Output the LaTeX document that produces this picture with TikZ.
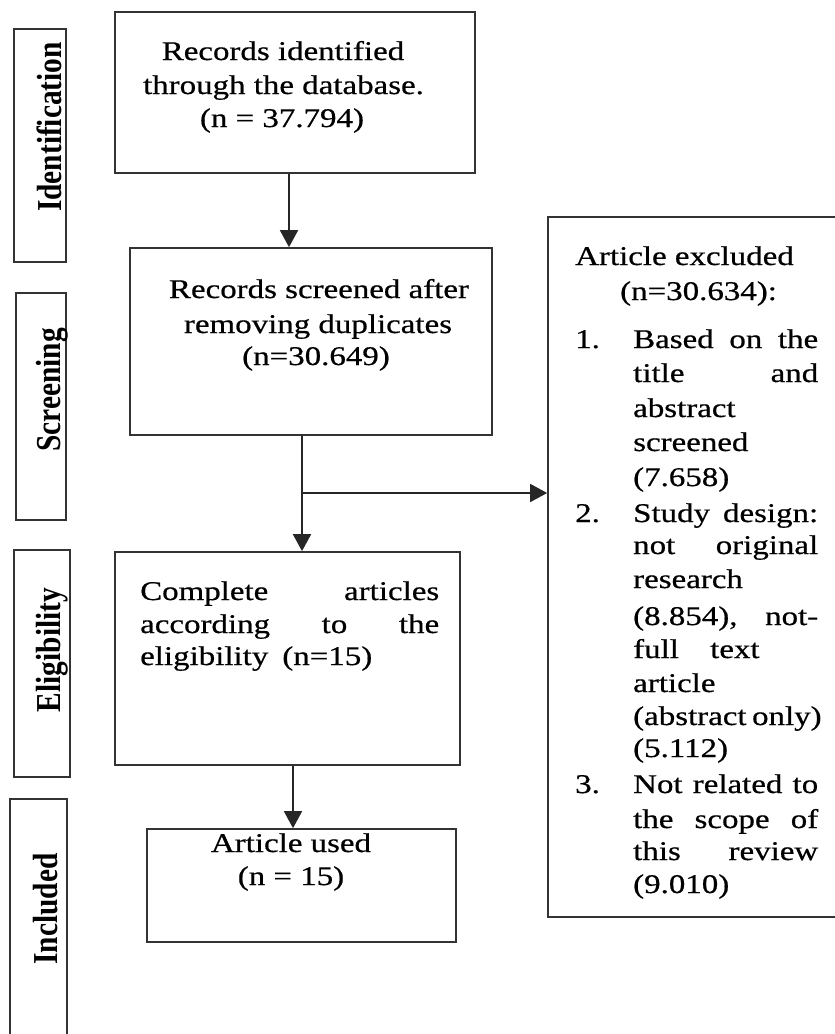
\documentclass[tikz,border=0pt]{standalone}
\usepackage{fontspec}
\setmainfont{Liberation Serif}
\newfontfamily\bodyfont[FakeStretch=1.22,FakeBold=0.6]{Liberation Serif}
\newfontfamily\labfont[FakeStretch=0.84]{Liberation Serif}
\usetikzlibrary{arrows.meta}
\tikzset{
  frame/.style={draw=black!80, line width=1.7pt, rectangle, inner sep=0pt, fill=none},
  txt/.style={inner sep=0pt, font=\bodyfont\fontsize{27}{33}\selectfont, text=black},
  lab/.style={inner sep=0pt, rotate=90, anchor=base, font=\labfont\bfseries\fontsize{35}{40}\selectfont, text=black},
  arr/.style={draw=black!85, line width=1.7pt, -{Triangle[length=17pt,width=18pt]}},
  conn/.style={draw=black!85, line width=1.7pt},
}
\newcommand{\jl}[1]{\makebox[185pt][s]{#1}}
\begin{document}
\begin{tikzpicture}[x=1pt,y=-1pt]
\clip (0,0) rectangle (835,1034);
\fill[white] (0,0) rectangle (835,1034);

% stage label boxes
\node[frame, minimum width=52pt, minimum height=233pt] (l1) at (40,145.5) {};
\node[frame, minimum width=50pt, minimum height=227pt] (l2) at (41,406.5) {};
\node[frame, minimum width=56pt, minimum height=227pt] (l3) at (42,663.5) {};
\node[frame, minimum width=57pt, minimum height=251pt] (l4) at (38.5,924.5) {};
\node[lab] (lt1) at (61,127) {Identification};
\node[lab] (lt2) at (60,390) {Screening};
\node[lab] (lt3) at (60,650) {Eligibility};
\node[lab] (lt4) at (57,909) {Included};

% main boxes
\node[frame, minimum width=360pt, minimum height=161pt] (b1) at (295,92.5) {};
\node[frame, minimum width=362pt, minimum height=187pt] (b2) at (311,341.5) {};
\node[frame, minimum width=345pt, minimum height=213pt] (b3) at (287.5,658.5) {};
\node[frame, minimum width=309pt, minimum height=113pt] (b4) at (301.5,885.5) {};
\node[frame, minimum width=302pt, minimum height=700pt] (rb) at (699,567) {};

% box 1 text
\node[txt, anchor=base] (t11) at (283,60) {Records identified};
\node[txt, anchor=base] (t12) at (283.5,94) {through the database.};
\node[txt, anchor=base] (t13) at (282,127) {(n = 37.794)};
% box 2 text
\node[txt, anchor=base] (t21) at (319,298) {Records screened after};
\node[txt, anchor=base] (t22) at (318,333) {removing duplicates};
\node[txt, anchor=base] (t23) at (316,365) {(n=30.649)};
% box 3 text
\node[txt, anchor=base west] (t31) at (140,600) {\makebox[299pt][s]{Complete articles}};
\node[txt, anchor=base west] (t32) at (140,633) {\makebox[299pt][s]{according to the}};
\node[txt, anchor=base west] (t33) at (140,665) {eligibility\hspace{14pt}(n=15)};
% box 4 text
\node[txt, anchor=base] (t41) at (291,852) {Article used};
\node[txt, anchor=base] (t42) at (291,885) {(n = 15)};

% excluded box text
\node[txt, anchor=base west] (r0a) at (575,265) {Article excluded};
\node[txt, anchor=base west] (r0b) at (620,300) {(n=30.634):};
\node[txt, anchor=base west] (n1) at (575,348) {1.};
\node[txt, anchor=base west] (r1) at (633,348) {\jl{Based on the}};
\node[txt, anchor=base west] (r2) at (633,382) {\jl{title and}};
\node[txt, anchor=base west] (r3) at (633,417) {abstract};
\node[txt, anchor=base west] (r4) at (633,451) {screened};
\node[txt, anchor=base west] (r5) at (633,486) {(7.658)};
\node[txt, anchor=base west] (n2) at (575,522) {2.};
\node[txt, anchor=base west] (r6) at (633,522) {\jl{Study design:}};
\node[txt, anchor=base west] (r7) at (633,554) {\jl{not original}};
\node[txt, anchor=base west] (r8) at (633,588) {research};
\node[txt, anchor=base west] (r9) at (633,625) {\jl{(8.854), not-}};
\node[txt, anchor=base west] (r10) at (633,658) {full};
\node[txt, anchor=base west] (r10b) at (710,658) {text};
\node[txt, anchor=base west] (r11) at (633,692) {article};
\node[txt, anchor=base west] (r12) at (633,725) {\jl{(abstract only)}};
\node[txt, anchor=base west] (r13) at (633,757) {(5.112)};
\node[txt, anchor=base west] (n3) at (575,793) {3.};
\node[txt, anchor=base west] (r14) at (633,793) {\jl{Not related to}};
\node[txt, anchor=base west] (r15) at (633,828) {\jl{the scope of}};
\node[txt, anchor=base west] (r16) at (633,860) {\jl{this review}};
\node[txt, anchor=base west] (r17) at (633,893) {(9.010)};

% connectors
\coordinate (x1) at (289,0);
\coordinate (j) at (302,493);
\coordinate (x3) at (293,0);
\draw[arr] (x1 |- b1.south) -- (x1 |- b2.north);
\draw[arr] (j |- b2.south) -- (j |- b3.north);
\draw[arr] (j) -- (j -| rb.west);
\draw[arr] (x3 |- b3.south) -- (x3 |- b4.north);
\end{tikzpicture}
\end{document}
